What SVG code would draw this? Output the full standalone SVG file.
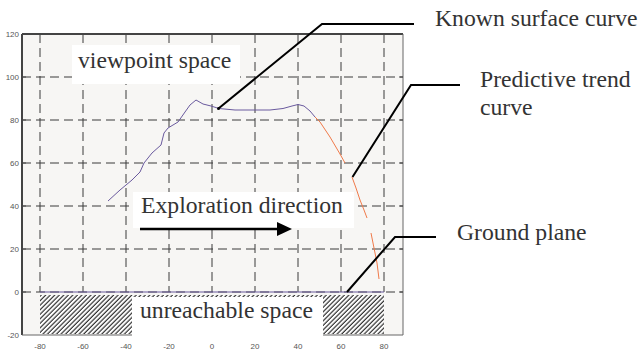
<svg xmlns="http://www.w3.org/2000/svg" width="641" height="354" viewBox="0 0 641 354">
<style>
.grid{stroke:#3a3a3a;stroke-width:1;stroke-dasharray:9 5;fill:none}
.tick{font-family:"Liberation Sans",Arial,sans-serif;font-size:8px;fill:#555}
.lbl{font-family:"Liberation Serif","Times New Roman",serif;font-size:23.7px;fill:#333}
.lead{stroke:#000;stroke-width:2;fill:none}
.box{fill:#fff}
</style>
<defs>
<pattern id="hatch" patternUnits="userSpaceOnUse" width="3.2" height="3.2" patternTransform="rotate(45)">
<rect x="0" y="0" width="3.2" height="3.2" fill="#fff"/>
<line x1="1" y1="0" x2="1" y2="3.2" stroke="#333" stroke-width="1.2"/>
</pattern>
</defs>
<rect width="641" height="354" fill="#fff"/>
<g id="plot">
<rect x="22" y="34" width="381" height="301" fill="#f7f6f4"/>
<g id="grid">
<path class="grid" d="M40,34V292M83,34V292M126,34V292M169,34V292M212,34V292M255,34V292M298,34V292M341,34V292M384,34V292"/>
<path class="grid" d="M22,77H403M22,120H403M22,163H403M22,206H403M22,249H403M22,292H403"/>
</g>
<rect x="40" y="295" width="344" height="39" fill="url(#hatch)"/>
<path d="M22,34H403M22,34V335" stroke="#444" stroke-width="2" fill="none"/>
<path d="M403,34V335M22,335H403" stroke="#666" stroke-width="1" fill="none"/>
<path d="M22,77h4M22,120h4M22,163h4M22,206h4M22,249h4M22,292h4M403,77h-4M403,120h-4M403,163h-4M403,206h-4M403,249h-4M403,292h-4" stroke="#444" stroke-width="1"/>
<g class="tick" text-anchor="end">
<text x="19" y="37">120</text><text x="19" y="80">100</text><text x="19" y="123">80</text><text x="19" y="166">60</text><text x="19" y="209">40</text><text x="19" y="252">20</text><text x="19" y="295">0</text><text x="19" y="338">-20</text>
</g>
<g class="tick" text-anchor="middle">
<text x="40" y="349">-80</text><text x="83" y="349">-60</text><text x="126" y="349">-40</text><text x="169" y="349">-20</text><text x="212" y="349">0</text><text x="255" y="349">20</text><text x="298" y="349">40</text><text x="341" y="349">60</text><text x="384" y="349">80</text>
</g>
</g>
<g id="curves">
<path d="M108,201L120,190L132,180L140,172L144,163L152,153L161,145L164,133L168,128L178,122L185,112L190,105L196,100L203,104L211,106L219,108.5L235,110L250,110L270,110L283,108.5L292,106L298,104.5L304,106L310,111L315,117" stroke="#6a5a9e" stroke-width="1" fill="none"/>
<path d="M315,117L320,122L330,137L340,154L345,163M352,177L356,188L360,200L364,210L367,218M371,233L374,248L377,263L379,279" stroke="#f07a4a" stroke-width="1" fill="none"/>
<path d="M40,292H384" stroke="#6a5a9e" stroke-width="1.2"/>
</g>
<g id="viewpoint">
<rect class="box" x="72" y="45" width="168" height="39"/>
<text class="lbl" x="78" y="68">viewpoint space</text>
</g>
<g id="exploration">
<rect class="box" x="133" y="192" width="221" height="36"/>
<text class="lbl" x="141" y="213">Exploration direction</text>
<path d="M140,229H279" stroke="#000" stroke-width="2.5"/>
<polygon points="277,222 292,229 277,236" fill="#000"/>
</g>
<g id="unreachable">
<rect class="box" x="132" y="297" width="191" height="39"/>
<text class="lbl" x="140" y="318">unreachable space</text>
</g>
<g id="connectors">
<path class="lead" d="M218.5,108.5L322,24H414"/>
<circle cx="218.5" cy="108.5" r="1.5" fill="#000"/>
<path class="lead" d="M352.5,177L411,85H460"/>
<path class="lead" d="M347,292L395,237H436"/>
</g>
<g id="known">
<text class="lbl" x="435" y="26">Known surface curve</text>
</g>
<g id="predictive">
<text class="lbl" x="480" y="87">Predictive trend</text>
<text class="lbl" x="480" y="115">curve</text>
</g>
<g id="ground">
<text class="lbl" x="457" y="240">Ground plane</text>
</g>
</svg>
